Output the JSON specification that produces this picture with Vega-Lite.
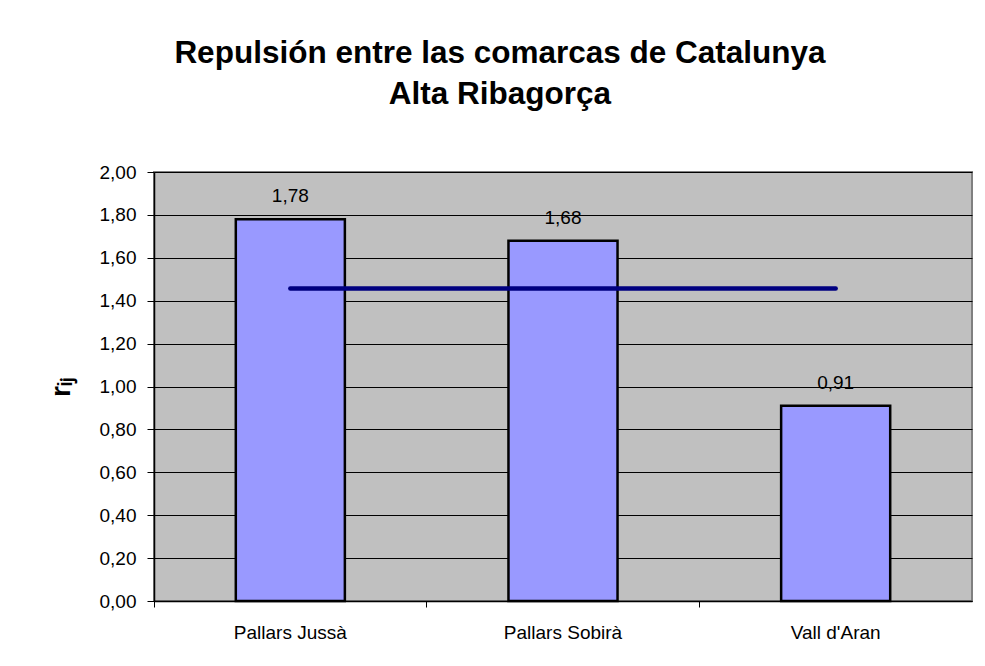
{
  "$schema": "https://vega.github.io/schema/vega-lite/v6.json",
  "width": 818,
  "height": 429,
  "autosize": {"type": "none"},
  "padding": {"left": 154, "top": 172, "right": 13, "bottom": 65},
  "background": "white",
  "title": {
    "text": ["Repulsión entre las comarcas de Catalunya", "Alta Ribagorça"],
    "font": "Liberation Sans",
    "fontSize": 31.5,
    "fontWeight": "bold",
    "color": "black",
    "lineHeight": 41,
    "anchor": "middle",
    "dx": -63,
    "offset": 53
  },
  "config": {
    "locale": {"number": {"decimal": ",", "thousands": ".", "grouping": [3], "currency": ["", " €"]}},
    "view": {"fill": "#C0C0C0", "stroke": "#808080", "strokeWidth": 2},
    "axis": {
      "labelFont": "Liberation Sans",
      "labelFontSize": 19,
      "labelColor": "black",
      "titleFont": "Liberation Sans",
      "domainColor": "black",
      "tickColor": "black"
    }
  },
  "data": {
    "values": [
      {"comarca": "Pallars Jussà", "r": 1.78, "media": 1.457},
      {"comarca": "Pallars Sobirà", "r": 1.68, "media": 1.457},
      {"comarca": "Vall d'Aran", "r": 0.91, "media": 1.457}
    ]
  },
  "encoding": {
    "x": {
      "field": "comarca",
      "type": "nominal",
      "sort": null,
      "scale": {"paddingInner": 0, "paddingOuter": 0},
      "axis": {
        "title": null,
        "labelAngle": 0,
        "labelPadding": 16,
        "tickSize": 6,
        "bandPosition": 0,
        "domainWidth": 1.5
      }
    }
  },
  "layer": [
    {
      "mark": {"type": "bar", "fill": "#9999FF", "stroke": "black", "strokeWidth": 2.5, "width": {"band": 0.4}},
      "encoding": {
        "y": {
          "field": "r",
          "type": "quantitative",
          "scale": {"domain": [0, 2]},
          "axis": {
            "title": "rᵢⱼ",
            "titleFontSize": 28,
            "titleFontWeight": "bold",
            "titleColor": "black",
            "titlePadding": 24,
            "values": [0, 0.2, 0.4, 0.6, 0.8, 1.0, 1.2, 1.4, 1.6, 1.8, 2.0],
            "format": ".2f",
            "grid": true,
            "gridColor": "black",
            "gridWidth": 1,
            "tickSize": 7,
            "labelPadding": 11,
            "domainWidth": 1.5
          }
        }
      }
    },
    {
      "mark": {"type": "text", "font": "Liberation Sans", "fontSize": 19, "color": "black", "baseline": "alphabetic", "dy": -17},
      "encoding": {
        "y": {"field": "r", "type": "quantitative"},
        "text": {"field": "r", "type": "quantitative", "format": ".2f"}
      }
    },
    {
      "mark": {"type": "line", "color": "#000080", "strokeWidth": 4.5, "strokeCap": "round"},
      "encoding": {
        "y": {"field": "media", "type": "quantitative"}
      }
    }
  ]
}
